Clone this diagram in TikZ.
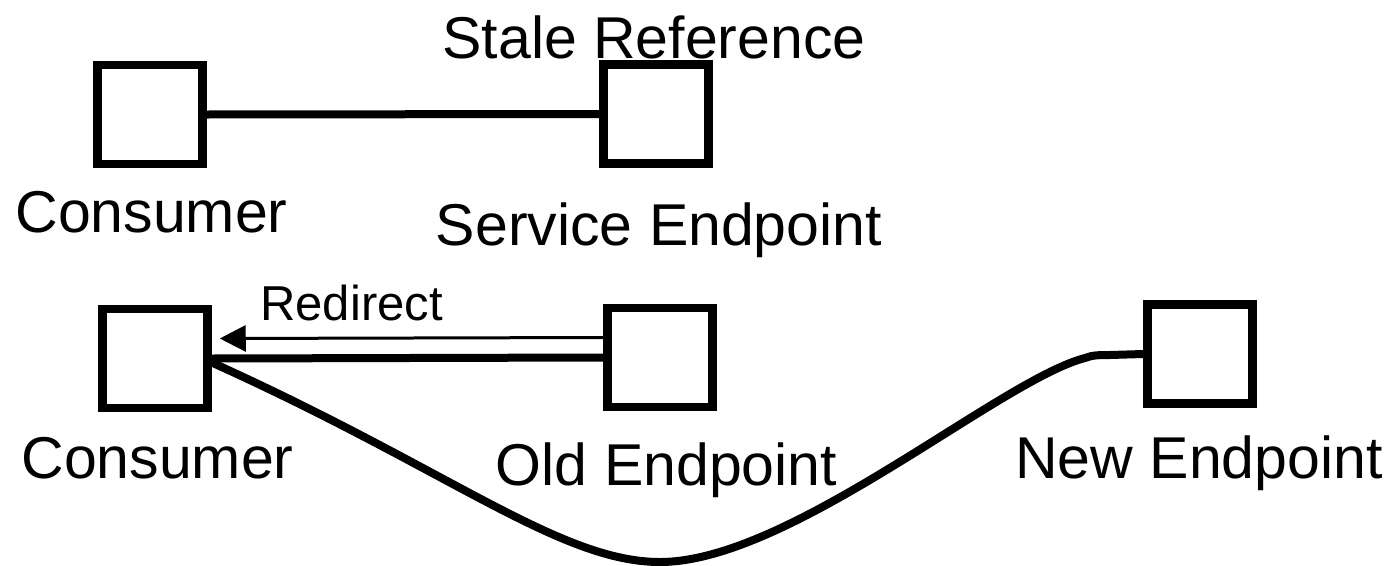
\documentclass[tikz,border=0pt]{standalone}
\usepackage{fontspec}
\setmainfont{Liberation Sans}
\usetikzlibrary{arrows.meta}
\begin{document}
\begin{tikzpicture}[x=1pt,y=-1pt,
  box/.style={draw=black,line width=8.5pt,fill=white,minimum width=105pt,minimum height=99pt,inner sep=0pt},
  label/.style={anchor=base,inner sep=0pt,font=\fontsize{59}{60}\selectfont},
  small/.style={anchor=base,inner sep=0pt,font=\fontsize{49}{50}\selectfont},
  link/.style={line width=8pt},
  thinlink/.style={line width=3pt}]
\useasboundingbox (0,0) rectangle (1396,565);

% first row: a consumer bound to the service endpoint
\node[box] (c1) at (150,114.5) {};
\node[box] (s1) at (656,114) {};
\node[label] (t1) at (654,58) {Stale Reference};
\node[label] (lc1) at (151.5,232) {Consumer};
\node[label] (ls1) at (659,245) {Service Endpoint};
\draw[link] (c1.east) -- (s1.west);

% second row: redirect from the old endpoint to the new one
\node[box] (c2) at (155,358.5) {};
\node[box] (o2) at (660,357.5) {};
\node[box] (n2) at (1200,354) {};
\node[label] (lc2) at (157.5,478) {Consumer};
\node[label] (lo2) at (666.5,485) {Old Endpoint};
\node[label] (ln2) at (1199,478) {New Endpoint};
\node[small] (lr) at (351.5,320) {Redirect};

% yshift is measured upwards on the canvas
\coordinate (ra) at ([yshift=20pt]o2.west);
\coordinate (rb) at ([yshift=20pt,xshift=8pt]c2.east);
\draw[thinlink,-{Triangle[length=26pt,width=26pt]}] (ra) -- (rb);
\draw[link] (o2.west) -- (c2.east);
\draw[link,line join=round] ([yshift=-4pt]c2.east)
  .. controls (450,470) and (560,562) .. (660,562)
  .. controls (790,562) and (1000,380) .. (1085,358)
  .. controls (1092,355) and (1100,355) .. (1110,355)
  -- (n2.west);
\end{tikzpicture}
\end{document}
